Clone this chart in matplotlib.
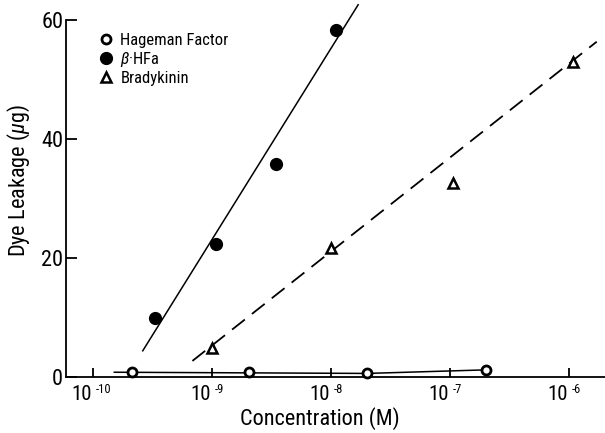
import matplotlib.pyplot as plt
from matplotlib import font_manager as fm
from matplotlib.lines import Line2D

# pick a condensed sans like the typeset original
avail = {f.name for f in fm.fontManager.ttflist}
font = 'DejaVu Sans'
for cand in ['Roboto Condensed', 'Archivo Narrow', 'PT Sans Narrow',
             'Liberation Sans Narrow', 'Open Sans Condensed', 'Liberation Sans']:
    if cand in avail:
        font = cand
        break
plt.rcParams['font.family'] = [font, 'DejaVu Sans']
plt.rcParams['mathtext.fontset'] = 'custom'
plt.rcParams['mathtext.rm'] = font
plt.rcParams['mathtext.it'] = font + ':italic'

# Hageman Factor (open circles)
hf_x = [2.1e-10, 2.05e-9, 2.0e-8, 2.0e-7]
hf_y = [0.8, 0.8, 0.7, 1.2]
hf_line_x = [1.5e-10, 2.0e-8, 2.0e-7]
hf_line_y = [0.8, 0.6, 1.2]

# beta-HFa (filled circles)
bhf_x = [3.3e-10, 1.08e-9, 3.45e-9, 1.09e-8]
bhf_y = [9.9, 22.4, 35.8, 58.2]
bhf_line_x = [2.6e-10, 1.68e-8]
bhf_line_y = [4.4, 62.5]

# Bradykinin (open triangles)
bk_x = [1.0e-9, 1.0e-8, 1.05e-7, 1.08e-6]
bk_y = [4.9, 21.7, 32.5, 52.9]
bk_line_x = [6.8e-10, 1.7e-6]
bk_line_y = [2.7, 56.3]

xticks = [1e-10, 1e-9, 1e-8, 1e-7, 1e-6]
xexps = ['-10', '-9', '-8', '-7', '-6']
yticks = [0, 20, 40, 60]

fig = plt.figure(figsize=(6.05, 4.33), dpi=100)
ax = fig.add_axes([66 / 605, 56 / 433, 539 / 605, 377 / 433])
ax.set_xscale('log')
ax.set_xlim(10 ** -10.23, 10 ** -5.70)
ax.set_ylim(0, 63.3)

ax.plot(hf_line_x, hf_line_y, '-', color='black', lw=1.1, clip_on=False)
ax.plot(bhf_line_x, bhf_line_y, '-', color='black', lw=1.1, clip_on=False)
ax.plot(bk_line_x, bk_line_y, color='black', lw=1.3, dashes=(9, 5), clip_on=False)

ax.plot(hf_x, hf_y, 'o', ms=6.5, mfc='white', mec='black', mew=2.0, clip_on=False, zorder=3)
ax.plot(bhf_x, bhf_y, 'o', ms=8.5, color='black', clip_on=False, zorder=3)
ax.plot(bk_x, bk_y, '^', ms=7, mfc='white', mec='black', mew=1.8, clip_on=False, zorder=3)

for s in ['top', 'right']:
    ax.spines[s].set_visible(False)
ax.spines['left'].set_bounds(0, 60)
ax.spines['left'].set_linewidth(1.3)
ax.spines['bottom'].set_linewidth(1.3)

ax.set_xticks(xticks)
ax.set_xticklabels([])
ax.xaxis.set_minor_locator(plt.NullLocator())
ax.set_yticks(yticks)
ax.set_yticklabels([str(v) for v in yticks], fontsize=16)
ax.tick_params(axis='x', direction='in', length=6.5, width=1.3)
ax.tick_params(axis='y', direction='in', length=8, width=1.3, pad=2)

# 10^n tick labels with a small raised exponent
for xv, ex in zip(xticks, xexps):
    ax.annotate('10', xy=(xv, 0), xycoords=('data', 'axes fraction'),
                xytext=(-1, -6), textcoords='offset points',
                ha='right', va='top', fontsize=15)
    ax.annotate(ex, xy=(xv, 0), xycoords=('data', 'axes fraction'),
                xytext=(1.5, -4.5), textcoords='offset points',
                ha='left', va='top', fontsize=9)

fig.text(320 / 605, 3 / 433, 'Concentration (M)', ha='center', va='bottom', fontsize=16)
ax.set_ylabel(r'Dye Leakage ($\mu$g)', fontsize=16)
ax.yaxis.set_label_coords(-0.063, 0.52)

handles = [
    Line2D([], [], ls='none', marker='o', ms=6.5, mfc='white', mec='black', mew=2.0),
    Line2D([], [], ls='none', marker='o', ms=8.5, color='black'),
    Line2D([], [], ls='none', marker='^', ms=7, mfc='white', mec='black', mew=1.8),
]
labels = ['Hageman Factor', r'$\beta$·HFa', 'Bradykinin']
ax.legend(handles, labels, loc='upper left', bbox_to_anchor=(0.059, 0.912),
          frameon=False, fontsize=12, handletextpad=0.35, labelspacing=0.1,
          handlelength=1.0, borderaxespad=0, borderpad=0)

fig.savefig('out.png', dpi=100)
